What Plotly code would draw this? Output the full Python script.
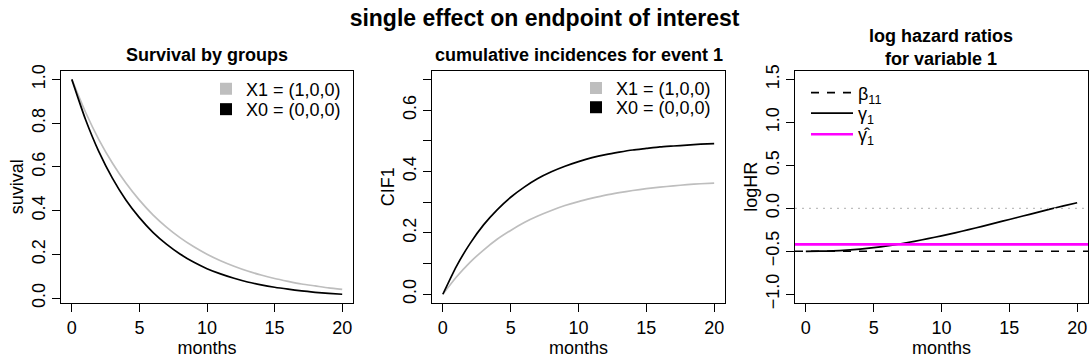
import plotly.graph_objects as go

# ---------------- data ----------------
months = list(range(0, 21))
surv_x0 = [1.000, 0.819, 0.670, 0.549, 0.449, 0.368, 0.301, 0.247, 0.202, 0.165, 0.135,
           0.111, 0.091, 0.074, 0.061, 0.050, 0.041, 0.033, 0.027, 0.022, 0.018]
surv_x1 = [1.000, 0.852, 0.725, 0.618, 0.526, 0.448, 0.381, 0.325, 0.277, 0.236, 0.201,
           0.171, 0.146, 0.124, 0.106, 0.090, 0.077, 0.065, 0.056, 0.047, 0.040]
cif1_x0 = [0.000, 0.091, 0.165, 0.226, 0.275, 0.316, 0.349, 0.377, 0.399, 0.417, 0.432,
           0.445, 0.455, 0.463, 0.470, 0.475, 0.480, 0.483, 0.486, 0.489, 0.491]
cif1_x1 = [0.000, 0.056, 0.104, 0.144, 0.179, 0.208, 0.234, 0.255, 0.273, 0.289, 0.302,
           0.313, 0.323, 0.331, 0.338, 0.344, 0.349, 0.353, 0.357, 0.360, 0.362]
gamma1 = [-0.500, -0.499, -0.495, -0.487, -0.475, -0.458, -0.437, -0.412, -0.384, -0.353, -0.320,
          -0.285, -0.248, -0.210, -0.170, -0.130, -0.090, -0.050, -0.010, 0.028, 0.065]
beta11 = -0.5
gamma1_hat = -0.42
ref_zero = 0.0

x_ticks = [0, 5, 10, 15, 20]
surv_ticks = [0.0, 0.2, 0.4, 0.6, 0.8, 1.0]
cif_ticks = [0.0, 0.2, 0.4, 0.6]
cif_minor_ticks = [0.1, 0.3, 0.5, 0.7]
hr_ticks = [-1.0, -0.5, 0.0, 0.5, 1.0, 1.5]

group_labels = ["X1 = (1,0,0)", "X0 = (0,0,0)"]
hr_labels = ["β<sub>11</sub>", "γ<sub>1</sub>", "γ̂<sub>1</sub>"]

main_title = "single effect on endpoint of interest"
panel_titles = ["Survival by groups", "cumulative incidences for event 1"]
panel3_title = ["log hazard ratios", "for variable 1"]

# ---------------- styling / layout ----------------
W, H = 1089, 363
FONT = "Liberation Sans, Arial, Helvetica, sans-serif"
GRAY = "#BEBEBE"
MAGENTA = "#FF00FF"
box_x = [(61, 353), (432, 725), (795, 1088)]
box_y = (67, 307)
ydom = [(H - box_y[1]) / H, (H - box_y[0]) / H]

fig = go.Figure()

def line_trace(x, y, color, width, xa, ya, dash="solid"):
    return go.Scatter(x=x, y=y, mode="lines",
                      line=dict(color=color, width=width, dash=dash, shape="spline", smoothing=0.6),
                      xaxis=xa, yaxis=ya, showlegend=False, hoverinfo="skip")

# panel 1
fig.add_trace(line_trace(months, surv_x1, GRAY, 1.7, "x", "y"))
fig.add_trace(line_trace(months, surv_x0, "black", 1.7, "x", "y"))
# panel 2
fig.add_trace(line_trace(months, cif1_x1, GRAY, 1.7, "x2", "y2"))
fig.add_trace(line_trace(months, cif1_x0, "black", 1.7, "x2", "y2"))
# panel 3
fig.add_trace(line_trace(months, gamma1, "black", 1.7, "x3", "y3"))

# reference lines in panel 3 (span full plot region like abline)
fig.add_shape(type="line", xref="x3 domain", x0=0, x1=1, yref="y3", y0=ref_zero, y1=ref_zero,
              line=dict(color=GRAY, width=1.2, dash="2px,5px"))
fig.add_shape(type="line", xref="x3 domain", x0=0, x1=1, yref="y3", y0=beta11, y1=beta11,
              line=dict(color="black", width=1.6, dash="8px,8px"))
fig.add_shape(type="line", xref="x3 domain", x0=0, x1=1, yref="y3", y0=gamma1_hat, y1=gamma1_hat,
              line=dict(color=MAGENTA, width=2.6))

# legend-only traces, each in its own legend box for exact placement
legend_items = [
    # (legend id, name, kind, color, dash, xa, ya, symbol x px, row y px)
    ("legend", group_labels[0], "sq", GRAY, None, "x", "y", 226, 86),
    ("legend2", group_labels[1], "sq", "black", None, "x", "y", 226, 107),
    ("legend3", group_labels[0], "sq", GRAY, None, "x2", "y2", 596, 85),
    ("legend4", group_labels[1], "sq", "black", None, "x2", "y2", 596, 105),
    ("legend5", hr_labels[0], "ln", "black", "8px,8px", "x3", "y3", 826, 90),
    ("legend6", hr_labels[1], "ln", "black", "solid", "x3", "y3", 826, 111),
    ("legend7", hr_labels[2], "ln", MAGENTA, "solid", "x3", "y3", 826, 133),
]
legend_layout = {}
for lid, name, kind, color, dash, xa, ya, sx, sy in legend_items:
    if kind == "sq":
        tr = go.Scatter(x=[None], y=[None], mode="markers", name=name, legend=lid,
                        marker=dict(symbol="square", size=12, color=color), xaxis=xa, yaxis=ya)
    else:
        tr = go.Scatter(x=[None], y=[None], mode="lines", name=name, legend=lid,
                        line=dict(color=color, width=2.6 if color == MAGENTA else 1.7, dash=dash),
                        xaxis=xa, yaxis=ya)
    fig.add_trace(tr)
    legend_layout[lid] = dict(x=(sx - 20) / W, xanchor="left", y=(H - sy) / H, yanchor="middle",
                              bgcolor="rgba(0,0,0,0)", borderwidth=0,
                              font=dict(size=18, color="black", family=FONT),
                              itemwidth=30 if kind == "sq" else 42)

axis_common = dict(showline=True, mirror=True, linecolor="black", linewidth=1.4,
                   ticks="outside", ticklen=8, tickwidth=1.4, tickcolor="black",
                   showgrid=False, zeroline=False,
                   tickfont=dict(size=18, color="black", family=FONT),
                   title_font=dict(size=18, color="black", family=FONT))

layout = dict(
    width=W, height=H, margin=dict(l=0, r=0, t=0, b=0),
    paper_bgcolor="white", plot_bgcolor="white",
    font=dict(family=FONT, color="black"),
    title=dict(text="<b>" + main_title + "</b>", x=0.5, xanchor="center", xref="paper",
               y=1 - 18 / H, yref="container", yanchor="middle",
               font=dict(size=23, family=FONT, color="black")),
    showlegend=True,
)
for i, (a, b) in enumerate(box_x):
    sfx = "" if i == 0 else str(i + 1)
    layout["xaxis" + sfx] = dict(axis_common, domain=[a / W, b / W], range=[-0.8, 20.8],
                                 tickvals=x_ticks, anchor="y" + sfx,
                                 title=dict(text="months", standoff=4))
yspecs = [
    ("suvival", [-0.0213, 1.0393], surv_ticks, ["%.1f" % v for v in surv_ticks], None),
    ("CIF1", [-0.028, 0.728], cif_ticks, ["%.1f" % v for v in cif_ticks], cif_minor_ticks),
    ("logHR", [-1.1, 1.6], hr_ticks, ["%.1f" % v if v >= 0 else "\u2212%.1f" % -v for v in hr_ticks], None),
]
for i, (ttl, rng, tv, tt, minor) in enumerate(yspecs):
    sfx = "" if i == 0 else str(i + 1)
    ax = dict(axis_common, domain=ydom, range=rng, tickvals=tv, ticktext=tt,
              tickangle=-90, anchor="x" + sfx,
              title=dict(text=ttl, standoff=0))
    if minor:
        ax["minor"] = dict(tickvals=minor, ticks="outside", ticklen=8, tickwidth=1.4,
                           tickcolor="black", showgrid=False)
    layout["yaxis" + sfx] = ax
layout.update(legend_layout)
fig.update_layout(**layout)

# panel titles
for i, t in enumerate(panel_titles):
    a, b = box_x[i]
    fig.add_annotation(text="<b>" + t + "</b>", xref="paper", yref="paper", x=(a + b) / 2 / W,
                       y=(H - 51) / H, xanchor="center", yanchor="middle", showarrow=False,
                       font=dict(size=18, family=FONT, color="black"))
a, b = box_x[2]
fig.add_annotation(text="<b>" + panel3_title[0] + "</b><br><b>" + panel3_title[1] + "</b>",
                   xref="paper", yref="paper", x=(a + b) / 2 / W,
                   y=(H - 43) / H, xanchor="center", yanchor="middle", showarrow=False,
                   font=dict(size=18, family=FONT, color="black"))

fig.write_html("out.html")
